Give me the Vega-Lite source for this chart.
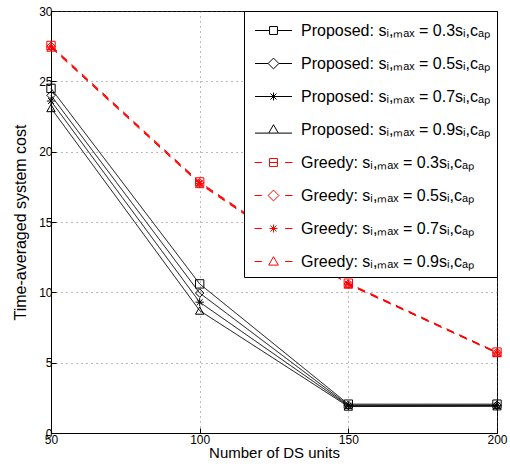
{
  "$schema": "https://vega.github.io/schema/vega-lite/v6.json",
  "width": 446,
  "height": 422,
  "autosize": "none",
  "padding": {"left": 51, "top": 11, "right": 13, "bottom": 41},
  "background": "white",
  "config": {
    "font": "Liberation Sans",
    "view": {"stroke": "black", "strokeWidth": 1},
    "axis": {
      "domainColor": "black",
      "tickColor": "black",
      "tickSize": -5,
      "labelColor": "black",
      "titleColor": "black",
      "labelFontSize": 12,
      "titleFontSize": 15,
      "titleFontWeight": "normal",
      "gridColor": "#555",
      "gridDash": [1, 4],
      "gridOpacity": 0.8
    }
  },
  "data": {
    "values": [
      {"n": 50, "cost": 24.5, "series": "Proposed: sᵢ,ₘₐₓ = 0.3sᵢ,cₐₚ", "method": "Proposed"},
      {"n": 100, "cost": 10.6, "series": "Proposed: sᵢ,ₘₐₓ = 0.3sᵢ,cₐₚ", "method": "Proposed"},
      {"n": 150, "cost": 2.05, "series": "Proposed: sᵢ,ₘₐₓ = 0.3sᵢ,cₐₚ", "method": "Proposed"},
      {"n": 200, "cost": 2.05, "series": "Proposed: sᵢ,ₘₐₓ = 0.3sᵢ,cₐₚ", "method": "Proposed"},
      {"n": 50, "cost": 24.0, "series": "Proposed: sᵢ,ₘₐₓ = 0.5sᵢ,cₐₚ", "method": "Proposed"},
      {"n": 100, "cost": 9.95, "series": "Proposed: sᵢ,ₘₐₓ = 0.5sᵢ,cₐₚ", "method": "Proposed"},
      {"n": 150, "cost": 1.98, "series": "Proposed: sᵢ,ₘₐₓ = 0.5sᵢ,cₐₚ", "method": "Proposed"},
      {"n": 200, "cost": 1.98, "series": "Proposed: sᵢ,ₘₐₓ = 0.5sᵢ,cₐₚ", "method": "Proposed"},
      {"n": 50, "cost": 23.6, "series": "Proposed: sᵢ,ₘₐₓ = 0.7sᵢ,cₐₚ", "method": "Proposed"},
      {"n": 100, "cost": 9.3, "series": "Proposed: sᵢ,ₘₐₓ = 0.7sᵢ,cₐₚ", "method": "Proposed"},
      {"n": 150, "cost": 1.93, "series": "Proposed: sᵢ,ₘₐₓ = 0.7sᵢ,cₐₚ", "method": "Proposed"},
      {"n": 200, "cost": 1.94, "series": "Proposed: sᵢ,ₘₐₓ = 0.7sᵢ,cₐₚ", "method": "Proposed"},
      {"n": 50, "cost": 23.1, "series": "Proposed: sᵢ,ₘₐₓ = 0.9sᵢ,cₐₚ", "method": "Proposed"},
      {"n": 100, "cost": 8.7, "series": "Proposed: sᵢ,ₘₐₓ = 0.9sᵢ,cₐₚ", "method": "Proposed"},
      {"n": 150, "cost": 1.88, "series": "Proposed: sᵢ,ₘₐₓ = 0.9sᵢ,cₐₚ", "method": "Proposed"},
      {"n": 200, "cost": 1.9, "series": "Proposed: sᵢ,ₘₐₓ = 0.9sᵢ,cₐₚ", "method": "Proposed"},
      {"n": 50, "cost": 27.55, "series": "Greedy: sᵢ,ₘₐₓ = 0.3sᵢ,cₐₚ", "method": "Greedy"},
      {"n": 100, "cost": 17.85, "series": "Greedy: sᵢ,ₘₐₓ = 0.3sᵢ,cₐₚ", "method": "Greedy"},
      {"n": 150, "cost": 10.65, "series": "Greedy: sᵢ,ₘₐₓ = 0.3sᵢ,cₐₚ", "method": "Greedy"},
      {"n": 200, "cost": 5.75, "series": "Greedy: sᵢ,ₘₐₓ = 0.3sᵢ,cₐₚ", "method": "Greedy"},
      {"n": 50, "cost": 27.5, "series": "Greedy: sᵢ,ₘₐₓ = 0.5sᵢ,cₐₚ", "method": "Greedy"},
      {"n": 100, "cost": 17.8, "series": "Greedy: sᵢ,ₘₐₓ = 0.5sᵢ,cₐₚ", "method": "Greedy"},
      {"n": 150, "cost": 10.6, "series": "Greedy: sᵢ,ₘₐₓ = 0.5sᵢ,cₐₚ", "method": "Greedy"},
      {"n": 200, "cost": 5.72, "series": "Greedy: sᵢ,ₘₐₓ = 0.5sᵢ,cₐₚ", "method": "Greedy"},
      {"n": 50, "cost": 27.45, "series": "Greedy: sᵢ,ₘₐₓ = 0.7sᵢ,cₐₚ", "method": "Greedy"},
      {"n": 100, "cost": 17.75, "series": "Greedy: sᵢ,ₘₐₓ = 0.7sᵢ,cₐₚ", "method": "Greedy"},
      {"n": 150, "cost": 10.58, "series": "Greedy: sᵢ,ₘₐₓ = 0.7sᵢ,cₐₚ", "method": "Greedy"},
      {"n": 200, "cost": 5.7, "series": "Greedy: sᵢ,ₘₐₓ = 0.7sᵢ,cₐₚ", "method": "Greedy"},
      {"n": 50, "cost": 27.4, "series": "Greedy: sᵢ,ₘₐₓ = 0.9sᵢ,cₐₚ", "method": "Greedy"},
      {"n": 100, "cost": 17.7, "series": "Greedy: sᵢ,ₘₐₓ = 0.9sᵢ,cₐₚ", "method": "Greedy"},
      {"n": 150, "cost": 10.55, "series": "Greedy: sᵢ,ₘₐₓ = 0.9sᵢ,cₐₚ", "method": "Greedy"},
      {"n": 200, "cost": 5.68, "series": "Greedy: sᵢ,ₘₐₓ = 0.9sᵢ,cₐₚ", "method": "Greedy"}
    ]
  },
  "encoding": {
    "x": {
      "field": "n", "type": "quantitative",
      "scale": {"domain": [50, 200], "nice": false, "zero": false},
      "axis": {"values": [50, 100, 150, 200], "title": "Number of  DS units", "titlePadding": 0, "labelPadding": 6, "labelFlush": false}
    },
    "y": {
      "field": "cost", "type": "quantitative",
      "scale": {"domain": [0, 30], "nice": false},
      "axis": {"values": [0, 5, 10, 15, 20, 25, 30], "title": "Time-averaged system cost", "titleFontSize": 16, "titlePadding": 10, "labelPadding": 4}
    }
  },
  "resolve": {"scale": {"shape": "independent"}, "legend": {"shape": "independent"}},
  "layer": [
    {
      "mark": {"type": "line", "strokeWidth": 1},
      "encoding": {
        "color": {
          "field": "series", "type": "nominal",
          "scale": {
            "domain": [
              "Proposed: sᵢ,ₘₐₓ = 0.3sᵢ,cₐₚ", "Proposed: sᵢ,ₘₐₓ = 0.5sᵢ,cₐₚ", "Proposed: sᵢ,ₘₐₓ = 0.7sᵢ,cₐₚ", "Proposed: sᵢ,ₘₐₓ = 0.9sᵢ,cₐₚ",
              "Greedy: sᵢ,ₘₐₓ = 0.3sᵢ,cₐₚ", "Greedy: sᵢ,ₘₐₓ = 0.5sᵢ,cₐₚ", "Greedy: sᵢ,ₘₐₓ = 0.7sᵢ,cₐₚ", "Greedy: sᵢ,ₘₐₓ = 0.9sᵢ,cₐₚ"
            ],
            "range": ["black", "black", "black", "black", "#ff0000", "#ff0000", "#ff0000", "#ff0000"]
          },
          "legend": {
            "title": null,
            "orient": "top-right",
            "offset": 0,
            "fillColor": "white",
            "strokeColor": "black",
            "padding": 7,
            "labelFontSize": 16,
            "labelColor": "black",
            "labelLimit": 400,
            "symbolSize": 576,
            "symbolStrokeWidth": 1,
            "symbolOffset": 10,
            "labelOffset": 15,
            "rowPadding": 12,
            "encode": {
              "symbols": {
                "update": {
                  "fill": {"value": "transparent"},
                  "shape": {"signal": "['M-1.54,0H-0.33M0.33,0H1.54M-0.33,-0.33H0.33V0.33H-0.33Z','M-1.54,0H-0.45M0.45,0H1.54M-0.45,0L0,-0.45L0.45,0L0,0.45Z','M-1.54,0H1.54M0,-0.33V0.33M-0.25,-0.25L0.25,0.25M-0.25,0.25L0.25,-0.25','M-1.54,0.3H-0.4M0.4,0.3H1.54M-0.4,0.3L0,-0.4L0.4,0.3Z','M-1.58,0H-0.97M0.97,0H1.58M-0.33,-0.33H0.33V0.33H-0.33ZM-0.33,0H0.33','M-1.58,0H-0.97M0.97,0H1.58M-0.45,0L0,-0.45L0.45,0L0,0.45Z','M-1.58,0H-0.97M0.97,0H1.58M-0.33,0H0.33M0,-0.33V0.33M-0.25,-0.25L0.25,0.25M-0.25,0.25L0.25,-0.25','M-1.58,0H-0.97M0.97,0H1.58M-0.4,0.3L0,-0.4L0.4,0.3Z'][datum.index]"}
                }
              }
            }
          }
        },
        "strokeDash": {
          "field": "method", "type": "nominal",
          "scale": {"domain": ["Proposed", "Greedy"], "range": [[1, 0], [8, 6]]},
          "legend": null
        },
        "strokeWidth": {
          "field": "method", "type": "nominal",
          "scale": {"domain": ["Proposed", "Greedy"], "range": [1, 1.5]},
          "legend": null
        }
      }
    },
    {
      "mark": {"type": "point", "filled": false, "size": 70, "strokeWidth": 1, "opacity": 1},
      "encoding": {
        "color": {"field": "series", "type": "nominal", "legend": null},
        "shape": {
          "field": "series", "type": "nominal",
          "scale": {
            "domain": [
              "Proposed: sᵢ,ₘₐₓ = 0.3sᵢ,cₐₚ", "Proposed: sᵢ,ₘₐₓ = 0.5sᵢ,cₐₚ", "Proposed: sᵢ,ₘₐₓ = 0.7sᵢ,cₐₚ", "Proposed: sᵢ,ₘₐₓ = 0.9sᵢ,cₐₚ",
              "Greedy: sᵢ,ₘₐₓ = 0.3sᵢ,cₐₚ", "Greedy: sᵢ,ₘₐₓ = 0.5sᵢ,cₐₚ", "Greedy: sᵢ,ₘₐₓ = 0.7sᵢ,cₐₚ", "Greedy: sᵢ,ₘₐₓ = 0.9sᵢ,cₐₚ"
            ],
            "range": ["square", "diamond", "M-1,0H1M0,-1V1M-0.7,-0.7L0.7,0.7M-0.7,0.7L0.7,-0.7", "triangle-up", "square", "diamond", "M-1,0H1M0,-1V1M-0.7,-0.7L0.7,0.7M-0.7,0.7L0.7,-0.7", "triangle-up"]
          },
          "legend": null
        }
      }
    }
  ]
}
